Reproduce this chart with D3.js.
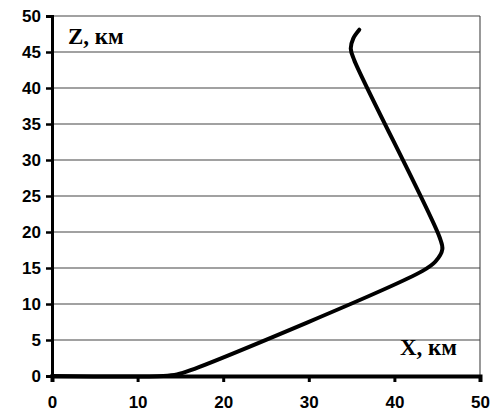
<!DOCTYPE html>
<html>
<head>
<meta charset="utf-8">
<script src="https://cdn.jsdelivr.net/npm/d3@7"></script>
<style>
  body { margin: 0; background: #fff; }
  svg { display: block; }
</style>
</head>
<body>
<svg id="chart" width="504" height="415"></svg>
<script>
// данные траектории (X, Z в км)
const xValues = [0, 13, 14.6, 16.2, 43.3, 44.8, 45.6, 45.3, 35.3, 34.9, 35.2, 35.9];
const zValues = [0, 0, 0.2, 0.8, 14.6, 15.9, 17.6, 19.2, 43.9, 45.5, 46.9, 48.1];
const xTicks = [0, 10, 20, 30, 40, 50];
const zTicks = [0, 5, 10, 15, 20, 25, 30, 35, 40, 45, 50];

const svg = d3.select("#chart");

const x = d3.scaleLinear().domain([0, 50]).range([52, 480]);
const y = d3.scaleLinear().domain([0, 50]).range([376, 16]);

// сетка
svg.append("g")
    .selectAll("line")
    .data(zTicks.filter(d => d > 0))
    .enter()
    .append("line")
    .attr("x1", x(0))
    .attr("x2", x(50))
    .attr("y1", d => y(d))
    .attr("y2", d => y(d))
    .attr("stroke", "#444")
    .attr("stroke-width", 1.1);

// правая граница
svg.append("line")
    .attr("x1", x(50)).attr("x2", x(50))
    .attr("y1", y(50)).attr("y2", y(0))
    .attr("stroke", "#444")
    .attr("stroke-width", 1.1);

// ось Z
const yAxis = svg.append("g")
    .attr("transform", `translate(${x(0)},0)`)
    .call(d3.axisLeft(y).tickValues(zTicks).tickSize(6).tickPadding(5));
yAxis.select(".domain").attr("stroke", "#000").attr("stroke-width", 3);
yAxis.selectAll(".tick line").attr("stroke", "#000").attr("stroke-width", 2.5);
yAxis.selectAll("text")
    .attr("font-family", "Liberation Sans, Arial, sans-serif")
    .attr("font-weight", "bold")
    .attr("font-size", 17)
    .attr("fill", "#000");

// ось X
const xAxis = svg.append("g")
    .attr("transform", `translate(0,${y(0)})`)
    .call(d3.axisBottom(x).tickValues(xTicks).tickSize(6).tickPadding(14));
xAxis.select(".domain").attr("stroke", "#000").attr("stroke-width", 4);
xAxis.selectAll(".tick line").attr("stroke", "#000").attr("stroke-width", 3);
xAxis.selectAll("text")
    .attr("font-family", "Liberation Sans, Arial, sans-serif")
    .attr("font-weight", "bold")
    .attr("font-size", 17)
    .attr("fill", "#000");

// кривая
const points = xValues.map((d, i) => [d, zValues[i]]);
const line = d3.line()
    .x(d => x(d[0]))
    .y(d => y(d[1]))
    .curve(d3.curveCatmullRom.alpha(0.5));

svg.append("path")
    .datum(points)
    .attr("d", line)
    .attr("fill", "none")
    .attr("stroke", "#000")
    .attr("stroke-width", 4)
    .attr("stroke-linecap", "round")
    .attr("stroke-linejoin", "round");

// подписи осей
svg.append("text")
    .attr("x", 68)
    .attr("y", 44)
    .attr("font-family", "Liberation Serif, Times New Roman, serif")
    .attr("font-weight", "bold")
    .attr("font-size", 23)
    .text("Z, км");

svg.append("text")
    .attr("x", 400)
    .attr("y", 355)
    .attr("font-family", "Liberation Serif, Times New Roman, serif")
    .attr("font-weight", "bold")
    .attr("font-size", 23)
    .text("X, км");
</script>
</body>
</html>
